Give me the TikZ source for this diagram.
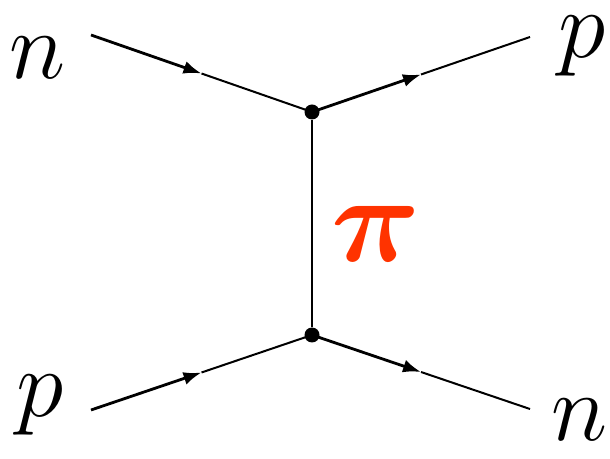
\RequirePackage{fix-cm}
\documentclass[tikz,border=0pt]{standalone}
\usepackage{bm}
\usepackage{tikz}
\usetikzlibrary{arrows.meta, calc}
\definecolor{cPion}{RGB}{255,51,0}
\tikzset{
	particle/.style ={font=\fontsize{48}{48}\selectfont, inner sep=0pt},
	mesonlbl/.style ={font=\fontsize{62}{62}\selectfont, text=cPion, inner sep=0pt},
	vertex/.style   ={circle, fill=black, minimum size=7.5pt, inner sep=0pt},
	fermhead/.style ={-{Latex[length=9pt,width=6.5pt]}, line width=1.4pt},
	fermtail/.style ={line width=1pt},
	propag/.style   ={line width=1.1pt},
}
\begin{document}
\begin{tikzpicture}[x=0.5pt, y=-0.5pt]
	\useasboundingbox (0,0) rectangle (610,459);
	% vertices
	\node[vertex] (vtop) at (312,112) {};
	\node[vertex] (vbot) at (312,335) {};
	% free ends of the nucleon lines
	\coordinate (nA) at (91,35);
	\coordinate (pB) at (530,37);
	\coordinate (pA) at (91,410);
	\coordinate (nB) at (530,409);
	% labels
	\node[particle] (nInLbl)  at (38,58)  {$n$};
	\node[particle] (pOutLbl) at (582,46) {$p$};
	\node[particle] (pInLbl)  at (40,405) {$p$};
	\node[particle] (nOutLbl) at (580,420) {$n$};
	\node[mesonlbl] (pion)    at (376,234) {$\bm{\pi}$};
	% nucleon lines
	\draw[fermhead] (nA) -- ($(nA)!0.5!(vtop)$);
	\draw[fermtail] ($(nA)!0.5!(vtop)$) -- (vtop.center);
	\draw[fermhead] (vtop.center) -- ($(vtop)!0.5!(pB)$);
	\draw[fermtail] ($(vtop)!0.5!(pB)$) -- (pB);
	\draw[fermhead] (pA) -- ($(pA)!0.5!(vbot)$);
	\draw[fermtail] ($(pA)!0.5!(vbot)$) -- (vbot.center);
	\draw[fermhead] (vbot.center) -- ($(vbot)!0.5!(nB)$);
	\draw[fermtail] ($(vbot)!0.5!(nB)$) -- (nB);
	% pion exchange
	\draw[propag] (vtop) -- (vbot);
\end{tikzpicture}
\end{document}
